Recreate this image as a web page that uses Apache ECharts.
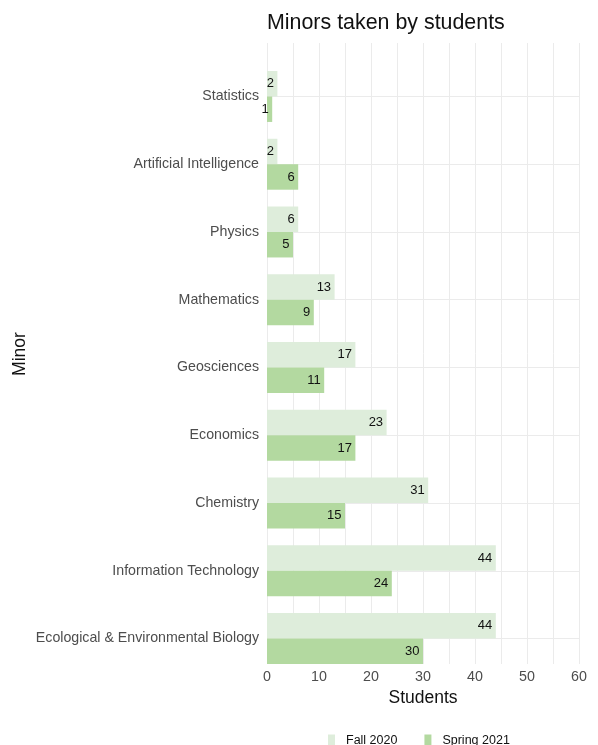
<!DOCTYPE html>
<html>
<head>
<meta charset="utf-8">
<script src="https://cdn.jsdelivr.net/npm/echarts@6/dist/echarts.min.js"></script>
<style>html,body{margin:0;padding:0;background:#fff}#c{width:598px;height:745px}</style>
</head>
<body>
<div id="c"></div>
<script>
const categories = ['Statistics','Artificial Intelligence','Physics','Mathematics','Geosciences','Economics','Chemistry','Information Technology','Ecological & Environmental Biology'];
const fall2020 = [2,2,6,13,17,23,31,44,44];
const spring2021 = [1,6,5,9,11,17,15,24,30];
const xTicks = [0,10,20,30,40,50,60];

const chart = echarts.init(document.getElementById('c'));
const font = 'Liberation Sans, Arial, sans-serif';
const lbl = {show:true, position:'insideRight', distance:3.5, color:'#111', fontSize:13, fontFamily:font};
chart.setOption({
  animation:false,
  title:{text:'Minors taken by students', left:262, top:8, textStyle:{fontSize:21.4, fontWeight:'normal', color:'#111', fontFamily:font}},
  legend:{data:['Fall 2020','Spring 2021'], left:323, top:729, itemWidth:7, itemHeight:12, itemGap:27, icon:'rect',
    textStyle:{fontSize:12.5, color:'#111', fontFamily:font, padding:[0,0,2,6]}},
  graphic:[{type:'text', x:20, y:354, rotation:Math.PI/2, style:{text:'Minor', fontSize:17.5, fill:'#111', fontFamily:font, align:'center', verticalAlign:'middle'}}],
  grid:[
    {left:267, right:19, top:43, bottom:81},
    {left:267, right:19, top:62.6, bottom:72.6}
  ],
  xAxis:[
    {gridIndex:0, type:'value', min:xTicks[0], max:xTicks[xTicks.length-1], interval:10,
     axisLine:{show:false}, axisTick:{show:false},
     axisLabel:{color:'#4d4d4d', fontSize:14.3, margin:6, fontFamily:font},
     splitLine:{show:true, lineStyle:{color:'#ebebeb', width:1}},
     minorTick:{show:false, splitNumber:2}, minorSplitLine:{show:true, lineStyle:{color:'#ebebeb', width:1}},
     name:'Students', nameLocation:'middle', nameGap:20, nameTextStyle:{fontSize:17.5, color:'#111', fontFamily:font}},
    {gridIndex:1, type:'value', min:0, max:60, show:false}
  ],
  yAxis:[
    {gridIndex:0, type:'value', show:false},
    {gridIndex:1, type:'category', data:categories, inverse:true,
     axisLine:{show:false},
     axisTick:{show:true, inside:true, length:312, alignWithLabel:true, lineStyle:{color:'#ebebeb', width:1}},
     axisLabel:{color:'#4d4d4d', fontSize:14.2, margin:8, fontFamily:font},
     splitLine:{show:false}}
  ],
  series:[
    {name:'Fall 2020', type:'bar', xAxisIndex:1, yAxisIndex:1, data:fall2020, barWidth:'37.6%', barGap:'0%',
     itemStyle:{color:'#deeddb'}, label:lbl},
    {name:'Spring 2021', type:'bar', xAxisIndex:1, yAxisIndex:1, data:spring2021, barWidth:'37.6%', barGap:'0%',
     itemStyle:{color:'#b3d9a0'}, label:lbl}
  ]
});
</script>
</body>
</html>
